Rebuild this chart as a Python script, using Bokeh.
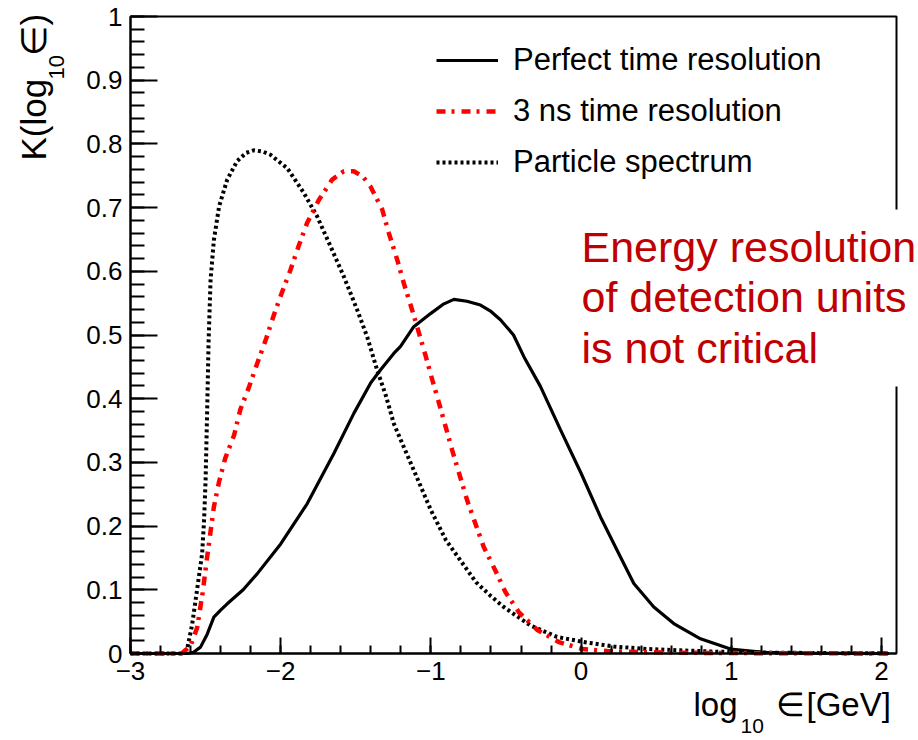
import math
from bokeh.plotting import figure
from bokeh.models import (FixedTicker, LinearAxis, Label, Legend, LegendItem, Range1d,
                          BoxAnnotation)
from bokeh.embed import file_html
from bokeh.resources import INLINE

# ---------------- data ----------------
perfect_x = [-3.0, -2.62, -2.58, -2.534, -2.49, -2.445, -2.40, -2.356, -2.25, -2.157,
             -2.0, -1.824, -1.646, -1.513, -1.40, -1.336, -1.247, -1.202, -1.114, -1.0,
             -0.92, -0.847, -0.76, -0.67, -0.60, -0.537, -0.45, -0.381, -0.27, -0.137,
             0.0, 0.13, 0.263, 0.351, 0.484, 0.617, 0.795, 0.995, 1.215, 1.5, 2.05]
perfect_y = [0.0, 0.0, 0.002, 0.01, 0.03, 0.057, 0.068, 0.078, 0.10, 0.125,
             0.172, 0.235, 0.314, 0.377, 0.425, 0.445, 0.471, 0.482, 0.513, 0.534,
             0.548, 0.556, 0.553, 0.547, 0.537, 0.524, 0.50, 0.466, 0.419, 0.351,
             0.283, 0.214, 0.151, 0.11, 0.073, 0.047, 0.023, 0.007, 0.002, 0.0005, 0.0]

ns3_x = [-3.0, -2.66, -2.60, -2.556, -2.52, -2.49, -2.445, -2.41, -2.37, -2.31,
         -2.27, -2.21, -2.157, -2.10, -2.046, -1.99, -1.935, -1.88, -1.824, -1.746,
         -1.657, -1.58, -1.513, -1.45, -1.402, -1.324, -1.28, -1.224, -1.18, -1.114,
         -1.036, -0.99, -0.947, -0.858, -0.758, -0.648, -0.57, -0.503, -0.415, -0.292,
         -0.148, 0.007, 0.174, 0.4, 0.8, 1.2, 2.05]
ns3_y = [0.0, 0.0, 0.012, 0.041, 0.095, 0.151, 0.23, 0.27, 0.306, 0.343,
         0.382, 0.419, 0.455, 0.492, 0.531, 0.568, 0.602, 0.64, 0.676, 0.712,
         0.744, 0.757, 0.757, 0.748, 0.733, 0.697, 0.66, 0.618, 0.581, 0.531,
         0.468, 0.429, 0.394, 0.319, 0.24, 0.167, 0.13, 0.096, 0.065, 0.037,
         0.018, 0.007, 0.004, 0.002, 0.001, 0.0005, 0.0]

spec_x = [-3.0, -2.66, -2.645, -2.62, -2.59, -2.567, -2.545, -2.523, -2.51, -2.5,
          -2.49, -2.48, -2.467, -2.445, -2.41, -2.356, -2.29, -2.23, -2.18, -2.12,
          -2.068, -1.957, -1.846, -1.757, -1.668, -1.58, -1.49, -1.424, -1.358, -1.3,
          -1.247, -1.2, -1.1, -1.0, -0.9, -0.8, -0.7, -0.6, -0.515, -0.337,
          -0.16, 0.018, 0.218, 0.44, 0.66, 0.88, 1.2, 1.6, 2.05]
spec_y = [0.0, 0.0, 0.002, 0.01, 0.045, 0.083, 0.12, 0.157, 0.21, 0.272,
          0.377, 0.49, 0.586, 0.649, 0.702, 0.744, 0.773, 0.786, 0.79, 0.788,
          0.783, 0.762, 0.723, 0.686, 0.639, 0.592, 0.539, 0.497, 0.445, 0.405,
          0.361, 0.335, 0.28, 0.225, 0.178, 0.145, 0.112, 0.09, 0.073, 0.044,
          0.026, 0.018, 0.011, 0.007, 0.005, 0.003, 0.0015, 0.0007, 0.0003]

series_labels = ["Perfect time resolution", "3 ns time resolution", "Particle spectrum"]

x_ticks = [-3, -2, -1, 0, 1, 2]
x_tick_labels = ["\u22123", "\u22122", "\u22121", "0", "1", "2"]
x_minor_ticks = [round(-3 + 0.2 * i, 1) for i in range(26)]
y_ticks = [0, 0.1, 0.2, 0.3, 0.4, 0.5, 0.6, 0.7, 0.8, 0.9, 1.0]
y_tick_labels = ["0", "0.1", "0.2", "0.3", "0.4", "0.5", "0.6", "0.7", "0.8", "0.9", "1"]
y_minor_ticks = [round(0.02 * i, 2) for i in range(51)]

annotation_lines = ["Energy resolution", "of detection units", "is not critical"]

# ---------------- layout ----------------
W, H = 918, 740
FL, FR, FT, FB = 130, 896, 16, 653          # pixel box of the data area
X0, X1 = -3.0, 2.1
Y0, Y1 = 0.0, 1.0
SX = (FR - FL) / (X1 - X0)
SY = (FB - FT) / (Y1 - Y0)
FONT = "Liberation Sans"


def dx(px):
    return X0 + (px - FL) / SX


def dy(py):
    return Y0 + (FB - py) / SY


p = figure(width=W, height=H,
           x_range=Range1d(dx(0), dx(W)), y_range=Range1d(dy(H), dy(0)),
           output_backend="svg", toolbar_location=None,
           x_axis_location=None, y_axis_location=None,
           min_border_left=0, min_border_right=0, min_border_top=0, min_border_bottom=0)
p.outline_line_color = None
p.grid.visible = False
p.background_fill_color = "white"
p.border_fill_color = "white"

xa = LinearAxis(fixed_location=Y0, bounds=(X0, X1),
                ticker=FixedTicker(ticks=x_ticks, minor_ticks=x_minor_ticks),
                major_label_overrides={t: s for t, s in zip(x_ticks, x_tick_labels)},
                major_tick_in=16, major_tick_out=0, minor_tick_in=8, minor_tick_out=0,
                major_label_standoff=8)
ya = LinearAxis(fixed_location=X0, bounds=(Y0, Y1),
                ticker=FixedTicker(ticks=y_ticks, minor_ticks=y_minor_ticks),
                major_label_overrides={t: s for t, s in zip(y_ticks, y_tick_labels)},
                major_tick_in=27, major_tick_out=0, minor_tick_in=14, minor_tick_out=0,
                major_label_standoff=8)
for ax in (xa, ya):
    ax.axis_line_width = 2
    ax.major_tick_line_width = 2
    ax.minor_tick_line_width = 2
    ax.axis_line_color = "black"
    ax.major_tick_line_color = "black"
    ax.minor_tick_line_color = "black"
    ax.major_label_text_font = FONT
    ax.major_label_text_font_size = "26px"
    ax.major_label_text_color = "black"
p.add_layout(xa, "below")
p.add_layout(ya, "left")

# frame outline
p.add_layout(BoxAnnotation(left=X0, right=X1, bottom=Y0, top=Y1, fill_alpha=0,
                           line_color="black", line_width=2, line_alpha=1))

r1 = p.line(perfect_x, perfect_y, line_color="black", line_width=3.2)
r3 = p.line(spec_x, spec_y, line_color="black", line_width=4, line_dash="3 3")
r2 = p.line(ns3_x, ns3_y, line_color="#ff0000", line_width=4.5, line_dash="9 6 3 7")

# legend (location = bottom-left corner, measured from the bottom-left of the canvas)
legend = Legend(items=[LegendItem(label=series_labels[0], renderers=[r1]),
                       LegendItem(label=series_labels[1], renderers=[r2]),
                       LegendItem(label=series_labels[2], renderers=[r3])],
                location=(436, 740 - 186), orientation="vertical",
                glyph_width=62, glyph_height=48, label_height=48, spacing=3,
                padding=10, margin=0, label_standoff=15,
                label_text_font=FONT, label_text_font_size="31px",
                label_text_color="black",
                background_fill_alpha=0, border_line_color=None)
p.add_layout(legend)

# white box behind the annotation (it hides the frame edge as in the reference)
p.add_layout(BoxAnnotation(left=dx(572), right=dx(W + 5), top=dy(209), bottom=dy(386),
                           fill_color="white", fill_alpha=1, line_color=None))
for i, line in enumerate(annotation_lines):
    p.add_layout(Label(x=dx(581), y=dy(246 + 50.5 * i), text=line, text_font=FONT,
                       text_font_size="43px", text_color="#c00000", text_align="left",
                       text_baseline="alphabetic"))

# x axis title
for txt, px, py, fs in [("log", 693, 704, "33px"), ("10", 740, 725, "21px"),
                        ("\u2208", 775, 704, "33px"), ("[GeV]", 806, 704, "33px")]:
    p.add_layout(Label(x=dx(px), y=dy(py), text=txt, text_font=FONT, text_font_size=fs,
                       text_color="black", text_baseline="alphabetic", text_align="left"))

# y axis title (rotated)
for txt, px, py, fs in [("K(log", 33, 160, "35px"), ("10", 56, 79, "22px"),
                        ("\u2208)", 33, 55, "35px")]:
    p.add_layout(Label(x=dx(px), y=dy(py), text=txt, angle=math.pi / 2, text_font=FONT,
                       text_font_size=fs, text_color="black",
                       text_baseline="alphabetic", text_align="left"))

open("out.html", "w").write(file_html(p, INLINE))
